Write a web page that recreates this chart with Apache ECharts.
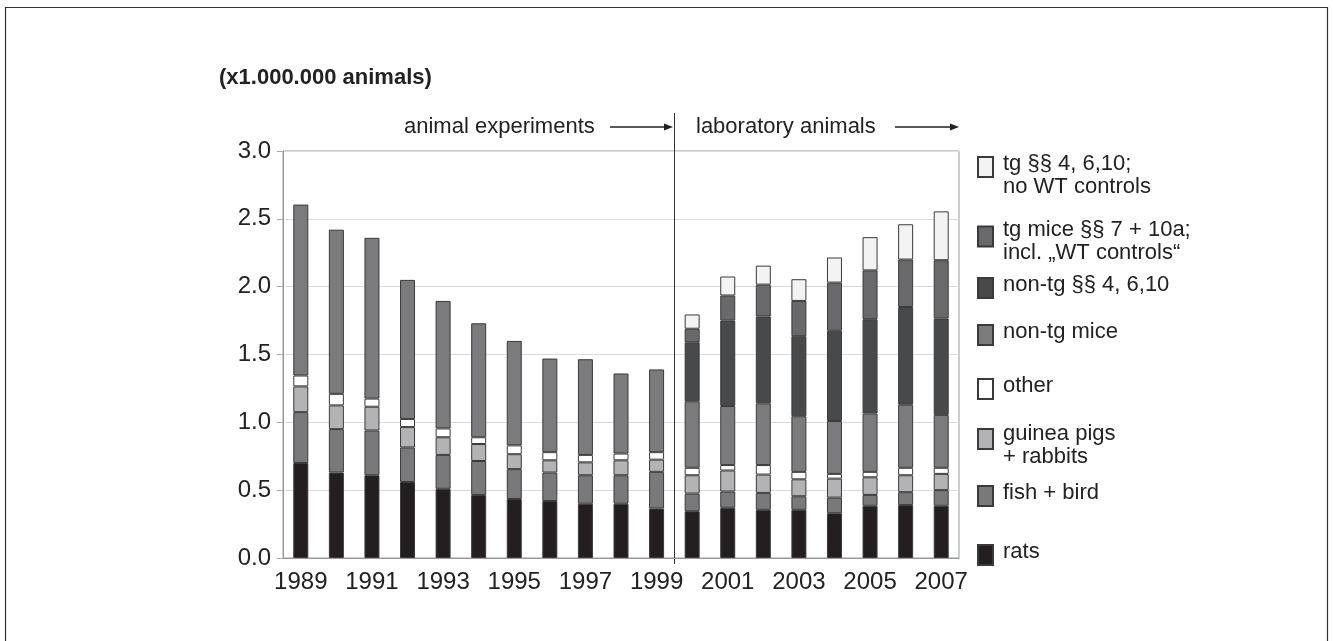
<!DOCTYPE html>
<html>
<head>
<meta charset="utf-8">
<script src="https://cdn.jsdelivr.net/npm/echarts@6/dist/echarts.min.js"></script>
<style>
html,body{margin:0;padding:0;background:#fff;}
#main{width:1333px;height:641px;}
</style>
</head>
<body>
<div id="main"></div>
<script>
// ---- data (million animals) ----
const years = ['1989','1990','1991','1992','1993','1994','1995','1996','1997','1998','1999','2000','2001','2002','2003','2004','2005','2006','2007'];
const rats          = [0.70,0.63,0.61,0.56,0.51,0.465,0.435,0.42,0.40,0.40,0.365, 0.345,0.37,0.355,0.355,0.33,0.385,0.39,0.385];
const fishBird      = [0.375,0.32,0.33,0.255,0.25,0.25,0.22,0.21,0.21,0.21,0.27, 0.13,0.12,0.125,0.10,0.115,0.08,0.095,0.115];
const guineaRabbits = [0.19,0.175,0.175,0.15,0.13,0.125,0.11,0.09,0.095,0.11,0.09, 0.135,0.155,0.135,0.125,0.14,0.13,0.125,0.12];
const other         = [0.08,0.085,0.06,0.06,0.065,0.05,0.065,0.06,0.055,0.05,0.055, 0.055,0.04,0.07,0.055,0.035,0.04,0.055,0.045];
const nonTgMice     = [1.26,1.21,1.185,1.025,0.94,0.84,0.77,0.69,0.705,0.59,0.61, 0.49,0.435,0.455,0.41,0.39,0.43,0.465,0.39];
const nonTgPar      = [null,null,null,null,null,null,null,null,null,null,null, 0.435,0.63,0.64,0.59,0.665,0.695,0.72,0.71];
const tgMice        = [null,null,null,null,null,null,null,null,null,null,null, 0.10,0.185,0.235,0.26,0.355,0.36,0.35,0.43];
const tgNoWT        = [null,null,null,null,null,null,null,null,null,null,null, 0.105,0.14,0.14,0.16,0.185,0.245,0.26,0.36];
const yTicks = [0, 0.5, 1.0, 1.5, 2.0, 2.5, 3.0];

const names = {
  rats: 'rats',
  fish: 'fish + bird',
  guinea: 'guinea pigs\n+ rabbits',
  other: 'other',
  mice: 'non-tg mice',
  par: 'non-tg §§ 4, 6,10',
  tgm: 'tg mice §§ 7 + 10a;\nincl. „WT controls“',
  tg: 'tg §§ 4, 6,10;\nno WT controls'
};

const FONT = '"Liberation Sans", Arial, Helvetica, sans-serif';
const chart = echarts.init(document.getElementById('main'));

function bar(name, data, color) {
  return {
    name, type: 'bar', stack: 'all', data, barWidth: 15,
    itemStyle: { color, borderColor: '#3a3a3a', borderWidth: 1 },
    emphasis: { disabled: true }
  };
}

// spaceTop / spaceBottom: empty spacer lines that shift the text against the swatch
function leg(name, top, spaceTop, spaceBottom) {
  return {
    data: [name], left: 977, top, orient: 'vertical', padding: 0,
    itemWidth: 15, itemHeight: 20, selectedMode: false, icon: 'rect',
    formatter: n => {
      const lines = n.split('\n').map(l => '{a|' + l + '}');
      if (spaceTop) lines.unshift('{t| }');
      if (spaceBottom) lines.push('{b| }');
      return lines.join('\n');
    },
    textStyle: {
      fontFamily: FONT, fontSize: 22, color: '#222', lineHeight: 23,
      rich: {
        a: { fontFamily: FONT, fontSize: 22, color: '#222', lineHeight: 23, padding: [0, 0, 0, 5] },
        t: { fontSize: 2, lineHeight: spaceTop || 1 },
        b: { fontSize: 2, lineHeight: spaceBottom || 1 }
      }
    }
  };
}

chart.setOption({
  animation: false,
  title: {
    text: '(x1.000.000 animals)', left: 219, top: 67, padding: 0,
    textStyle: { fontFamily: FONT, fontSize: 22, fontWeight: 'bold', color: '#222' }
  },
  grid: { left: 283, right: 374, top: 151, bottom: 83, show: true, borderColor: '#999', borderWidth: 1 },
  legend: [
    leg(names.tg, 136, 16, 0),
    leg(names.tgm, 209, 9, 0),
    leg(names.par, 273.5, 0, 6),
    leg(names.mice, 320.5, 0, 6),
    leg(names.other, 374.5, 0, 6),
    leg(names.guinea, 410, 12, 0),
    leg(names.fish, 481.5, 0, 6),
    leg(names.rats, 540.5, 0, 6)
  ],
  xAxis: {
    type: 'category', data: years,
    axisLine: { lineStyle: { color: '#999' } },
    axisTick: { interval: 0, length: 7, lineStyle: { color: '#aaa' } },
    axisLabel: { interval: 1, margin: 12, fontFamily: FONT, fontSize: 24, color: '#222' }
  },
  yAxis: {
    type: 'value', min: yTicks[0], max: yTicks[yTicks.length - 1], interval: 0.5,
    axisLine: { show: true, lineStyle: { color: '#999' } },
    axisTick: { show: true, length: 6, lineStyle: { color: '#aaa' } },
    axisLabel: { margin: 12, fontFamily: FONT, fontSize: 24, color: '#222', formatter: v => v.toFixed(1) },
    splitLine: { lineStyle: { color: '#dcdcdc' } }
  },
  series: [
    bar(names.rats, rats, '#231f20'),
    bar(names.fish, fishBird, '#79797b'),
    bar(names.guinea, guineaRabbits, '#b3b3b5'),
    bar(names.other, other, '#ffffff'),
    bar(names.mice, nonTgMice, '#7b7b7d'),
    bar(names.par, nonTgPar, '#48494b'),
    bar(names.tgm, tgMice, '#69696b'),
    bar(names.tg, tgNoWT, '#f3f3f3')
  ]
});

// separator between the two periods, located via the category axis
const xa = chart.convertToPixel({ xAxisIndex: 0 }, '1999');
const xb = chart.convertToPixel({ xAxisIndex: 0 }, '2000');
const sepX = Math.round((xa + xb) / 2) + 0.5;
const yAnn = 127;

function arrow(x1, x2, y) {
  return [
    { type: 'line', shape: { x1, y1: y, x2: x2 - 8, y2: y }, style: { stroke: '#222', lineWidth: 1.5 } },
    { type: 'polygon', shape: { points: [[x2 - 9, y - 3.5], [x2, y], [x2 - 9, y + 3.5]] }, style: { fill: '#222' } }
  ];
}

chart.setOption({
  graphic: [
    { type: 'rect', shape: { x: 5.5, y: 7.5, width: 1322, height: 700 }, style: { fill: 'none', stroke: '#333', lineWidth: 1.2 }, silent: true },
    { type: 'line', shape: { x1: sepX, y1: 113, x2: sepX, y2: 564 }, style: { stroke: '#333', lineWidth: 1 } },
    { type: 'text', x: 404, y: yAnn, style: { text: 'animal experiments', font: '22px ' + FONT, fill: '#222', verticalAlign: 'middle' } },
    ...arrow(610, 673, yAnn),
    { type: 'text', x: 696, y: yAnn, style: { text: 'laboratory animals', font: '22px ' + FONT, fill: '#222', verticalAlign: 'middle' } },
    ...arrow(895, 959, yAnn)
  ]
});
</script>
</body>
</html>
